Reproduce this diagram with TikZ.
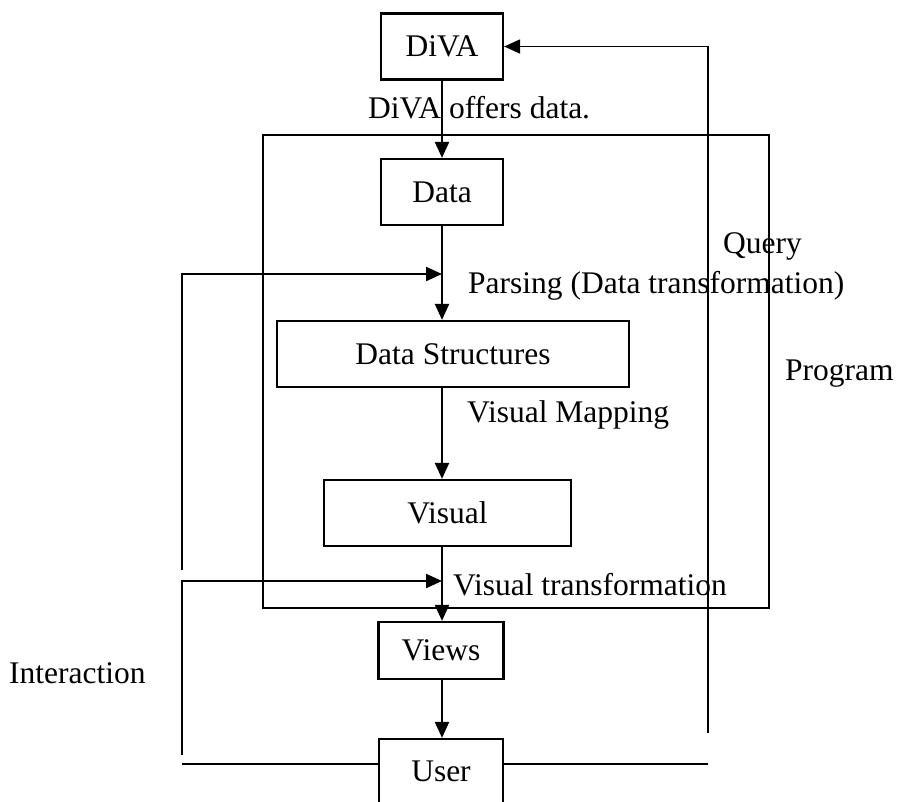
\documentclass[tikz,border=0pt]{standalone}
\usepackage{fontspec}
\setmainfont{Liberation Serif}
\usetikzlibrary{arrows.meta}

\tikzset{
  box/.style={draw, line width=2.2pt, inner sep=0pt},
  flow/.style={line width=2.2pt, -{Triangle[length=16pt,width=14pt]}},
  thinline/.style={line width=1.6pt},
  lbl/.style={anchor=base west, inner sep=0pt}
}

\begin{document}
\begin{tikzpicture}[x=1pt,y=1pt,yscale=-1,xscale=1,font=\fontsize{31.5}{37}\selectfont]
\useasboundingbox (0,0) rectangle (897,801);

%Shape: Rectangle [program frame]
\draw [thinline] (263,135) rectangle (769,608);

%Boxes
\node [box, minimum width=122, minimum height=66] (diva) at (442,46.5) {DiVA};
\node [box, minimum width=122, minimum height=66] (data) at (442,192) {Data};
\node [box, minimum width=352, minimum height=66] (ds) at (453,354) {Data Structures};
\node [box, minimum width=247, minimum height=66] (visual) at (447.5,513) {Visual};
\node [box, minimum width=125, minimum height=57] (views) at (441,650.5) {Views};
\node [box, minimum width=124, minimum height=64] (user) at (441,771) {User};

%Corner points of the feedback lines
\coordinate (qbot) at (708,733);
\coordinate (uright) at (708,764);
\coordinate (uleft) at (182,764);
\coordinate (ibot) at (182,755);
\coordinate (itop) at (182,570);
\coordinate (ptip) at (442,274);
\coordinate (vtip) at (442,581);

%Main flow
\draw [flow] (diva) -- (data);
\draw [flow] (data.south) -- (data.south |- ds.north);
\draw [flow] (ds.south -| data.south) -- (visual.north -| data.south);
\draw [flow] (visual.south -| data.south) -- (views.north -| data.south);
\draw [flow] (views.south -| data.south) -- (user.north -| data.south);

%Query loop
\draw [flow, line width=1.8pt] (qbot) |- (diva.east);
\draw [thinline] (user.east |- uright) -- (uright);

%Interaction loop
\draw [flow] (itop) |- (ptip);
\draw [flow] (ibot) |- (vtip);
\draw [thinline] (user.west |- uleft) -- (uleft);

% Text Node
\node [lbl] (offers) at (368,118) {DiVA offers data.};
% Text Node
\node [lbl] (query) at (723,253) {Query};
% Text Node
\node [lbl] (parsing) at (468,293) {Parsing (Data transformation)};
% Text Node
\node [lbl] (program) at (785,380) {Program};
% Text Node
\node [lbl] (mapping) at (467,422) {Visual Mapping};
% Text Node
\node [lbl] (vtrans) at (453,595) {Visual transformation};
% Text Node
\node [lbl] (interaction) at (9,683) {Interaction};

\end{tikzpicture}
\end{document}
